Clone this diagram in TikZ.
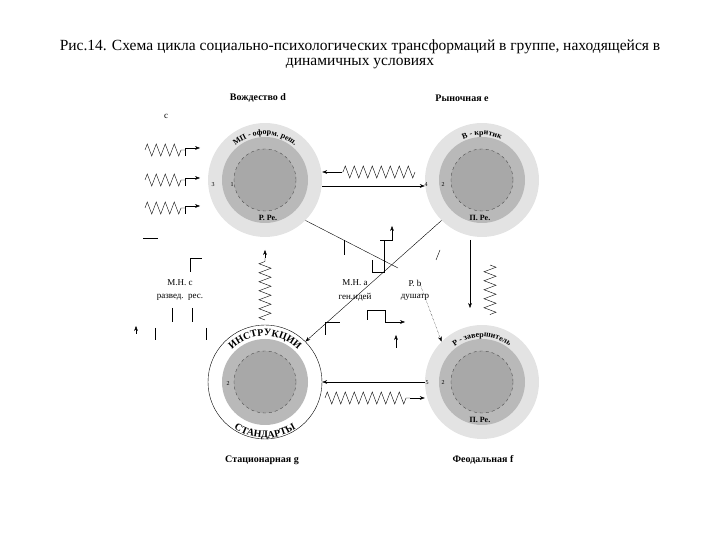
\documentclass[tikz,border=0pt]{standalone}
\usepackage{fontspec}
\setmainfont{Liberation Serif}
\usetikzlibrary{decorations.pathmorphing,decorations.text,arrows.meta,patterns}
\begin{document}
\begin{tikzpicture}[x=1pt,y=1pt,
  zz/.style={decorate,decoration={zigzag,segment length=9,amplitude=6}},
  ar/.style={-{Stealth[length=5pt]}},
  lbl/.style={font=\bfseries\fontsize{10}{10}\selectfont},
  sm/.style={font=\fontsize{9}{9}\selectfont},
  num/.style={font=\fontsize{6}{6}\selectfont},
  outer/.style={fill=gray!22},
  mid/.style={fill=gray!55},
  inner/.style={fill=gray!68,draw=black!70,dashed}]
\useasboundingbox (0,0) rectangle (720,540);
\node[font=\fontsize{15.5}{16}\selectfont] (t1) at (360,493) {Рис.14. Схема цикла социально-психологических трансформаций в группе, находящейся в};
\node[font=\fontsize{15.5}{16}\selectfont] (t2) at (360,476) {динамичных условиях};
\node[lbl] (ld) at (258,442) {Вождество d};
\node[lbl] (le) at (462,442) {Рыночная e};
\node[lbl] (lg) at (262,80) {Стационарная g};
\node[lbl] (lf) at (483,80) {Феодальная f};
\node[sm] (lc) at (166,424) {c};
% circles
\foreach \n/\cx/\cy in {A/265/360,B/482/360,D/482/158}{
  \fill[outer] (\cx,\cy) circle (57);
  \fill[mid] (\cx,\cy) circle (43);
  \filldraw[inner] (\cx,\cy) circle (31);
}
\filldraw[fill=white,draw=black] (265,158) circle (57);
\fill[mid] (265,158) circle (43);
\filldraw[inner] (265,158) circle (31);
\node[circle,minimum size=114] (A) at (265,360) {};
\node[circle,minimum size=114] (B) at (482,360) {};
\node[circle,minimum size=114] (C) at (265,158) {};
\node[circle,minimum size=114] (D) at (482,158) {};
% arc texts
\path[decorate,decoration={text along path,text align=center,text={|\bfseries\footnotesize|МП - оформ. реш.}}] (265,360) ++(160:45) arc (160:20:45);
\path[decorate,decoration={text along path,text align=center,text={|\bfseries\footnotesize|В - критик}}] (482,360) ++(140:45) arc (140:40:45);
\path[decorate,decoration={text along path,text align=center,text={|\bfseries\footnotesize|Р - завершитель}}] (482,158) ++(165:45) arc (165:15:45);
\path[decorate,decoration={text along path,text align=center,text={|\bfseries\normalsize|ИНСТРУКЦИИ}}] (265,158) ++(160:46) arc (160:20:46);
\path[decorate,decoration={text along path,text align=center,text={|\bfseries\normalsize|СТАНДАРТЫ}}] (265,158) ++(215:56) arc (215:325:56);
\node[font=\bfseries\footnotesize] (a1) at (268,322) {Р. Ре.};
\node[font=\bfseries\footnotesize] (b1) at (480,322) {П. Ре.};
\node[font=\bfseries\footnotesize] (d1) at (480,120) {П. Ре.};
\node[num] (n3) at (213,355) {3};
\node[num] (n1) at (232,355) {1};
\node[num] (n4) at (426,355) {4};
\node[num] (n2) at (443,355) {2};
\node[num] (n2c) at (228,156) {2};
\node[num] (n5) at (427,157) {5};
\node[num] (n2d) at (443,157) {2};
% left zigzags
\foreach \y in {390,360,332}{
  \draw[zz] (145,\y) -- (185,\y);
  \draw[ar] (185,\y-6) -- (185,\y+2) -- (200,\y+2);
}
\draw (143,302) -- (158,302);
% top connectors
\draw[zz] (415,368) -- (342,368);
\draw[ar] (342,368) -- (A.east|-0,368);
\draw[ar] (A.east|-0,354) -- (B.west|-0,354);
% diagonals
\coordinate (pb) at (398,272);
\draw (A.south east) -- (pb);
\draw[ar,densely dotted] (420,256) -- (D.north west);
\draw[ar] (B.south west) -- (C.north east);
% verticals
\draw[ar] (470,300) -- (470,232);
\draw[zz] (490,275) -- (490,225);
\draw[zz] (265,220) -- (265,282);
\draw[ar] (265,282) -- (C.north|-0,290);
\draw[ar] (D.west|-0,158) -- (C.east|-0,158);
\draw[zz] (325,142) -- (410,142);
\draw[ar] (410,142) -- (D.west|-0,142);
% labels
\node[sm] (mc) at (180,257) {М.Н. c};
\node[sm] (mc2) at (180,243) {развед.\ \ рес.};
\node[sm] (ma) at (355,257) {М.Н. a};
\node[sm] (ma2) at (355,243) {ген.идей};
\node[sm] (rb) at (415,257) {Р. b};
\node[sm] (rb2) at (415,243) {душатр};
% small step marks
\draw (190,268) -- (190,282) -- (202,282);
\draw (172,232) -- (172,218); \draw (192,232) -- (192,218);
\draw (155,212) -- (155,200); \draw (206,212) -- (206,200);
\draw[ar] (136,206) -- (136,214);
\draw (344,300) -- (344,285); \draw (372,280) -- (372,268) -- (384,268) -- (384,300) -- (392,300);
\draw[ar] (380,300) -- (392,300) -- (392,314);
\draw (325,205) -- (325,218) -- (340,218);
\draw (367,220) -- (367,230) -- (385,230) -- (385,218);
\draw[ar] (385,218) -- (405,218);
\draw[ar] (396,192) -- (396,205);
\draw (440,290) -- (436,280);
\end{tikzpicture}
\end{document}
